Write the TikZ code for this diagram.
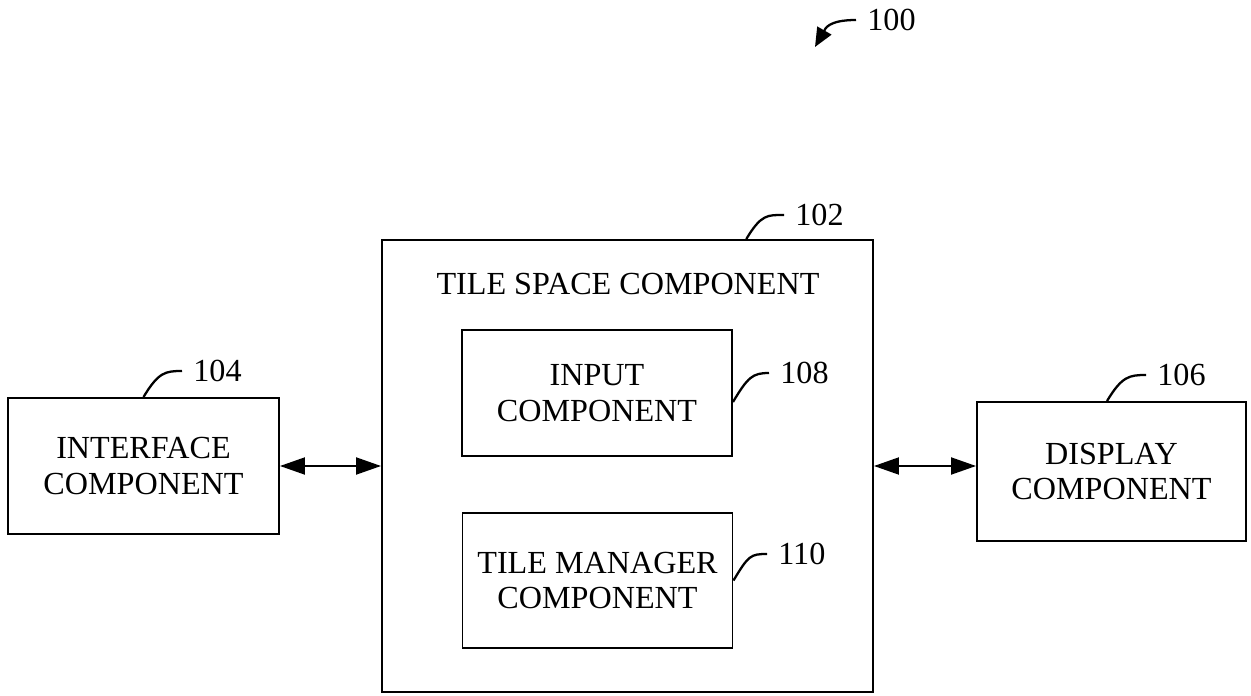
\documentclass[tikz,border=0pt]{standalone}
\usepackage{fontspec}
\setmainfont{Liberation Serif}
\usetikzlibrary{arrows.meta,positioning,calc}

\tikzset{
  block/.style={rectangle,draw,line width=1.1pt,align=center,inner sep=0pt,
    font=\fontsize{18.3}{20.3}\selectfont},
  reflabel/.style={anchor=west,inner sep=0pt,font=\fontsize{18.3}{20.3}\selectfont},
  leader/.style={line width=1.3pt,shorten >=0.22cm},
  link/.style={line width=1.1pt,{Triangle[length=0.5cm,width=0.34cm]}-{Triangle[length=0.5cm,width=0.34cm]}}
}

\begin{document}
\begin{tikzpicture}
\useasboundingbox (0,0) rectangle (25.02,-13.92);

% components
\node[block,minimum width=5.42cm,minimum height=2.72cm] (iface) at (2.87,-9.32) {INTERFACE\\COMPONENT};
\node[block,minimum width=9.82cm,minimum height=9.04cm] (tile) at (12.55,-9.32) {};
\node[font=\fontsize{18.3}{20.3}\selectfont,inner sep=0pt] (title) at (12.56,-5.68) {TILE SPACE COMPONENT};
\node[block,minimum width=5.40cm,minimum height=2.52cm] (input) at (11.94,-7.86) {INPUT\\COMPONENT};
\node[block,minimum width=5.40cm,minimum height=2.70cm] (mgr) at (11.95,-11.61) {TILE MANAGER\\COMPONENT};
\node[block,minimum width=5.38cm,minimum height=2.78cm] (disp) at (22.23,-9.43) {DISPLAY\\COMPONENT};

\draw[link] (iface.east) -- (tile.west);
\draw[link] (tile.east) -- (tile.east -| disp.west);

% reference numerals
\node[reflabel] (l100) at (17.34,-0.40) {100};
\node[reflabel] (l102) at (15.90,-4.30) {102};
\node[reflabel] (l104) at (3.86,-7.42) {104};
\node[reflabel] (l106) at (23.14,-7.50) {106};
\node[reflabel] (l108) at (15.60,-7.46) {108};
\node[reflabel] (l110) at (15.56,-11.08) {110};

\coordinate (tip100) at (16.30,-0.94);
\draw[line width=1.3pt,shorten <=0.22cm,-{Triangle[length=0.38cm,width=0.32cm]}]
  (l100.west) .. controls +(-0.8,0) and +(0.2,0.35) .. (tip100);

\draw[leader] ($(tile.north west)!0.741!(tile.north east)$) .. controls +(0.3,0.5) and +(-0.55,0) .. (l102.west);
\draw[leader] (iface.north) .. controls +(0.3,0.5) and +(-0.55,0) .. (l104.west);
\draw[leader] ($(disp.north)+(-0.09,0)$) .. controls +(0.3,0.5) and +(-0.55,0) .. (l106.west);
\draw[leader] ($(input.east)+(0,-0.18)$) .. controls +(0.3,0.5) and +(-0.55,0) .. (l108.west);
\draw[leader] (mgr.east) .. controls +(0.3,0.5) and +(-0.55,0) .. (l110.west);

\end{tikzpicture}
\end{document}
